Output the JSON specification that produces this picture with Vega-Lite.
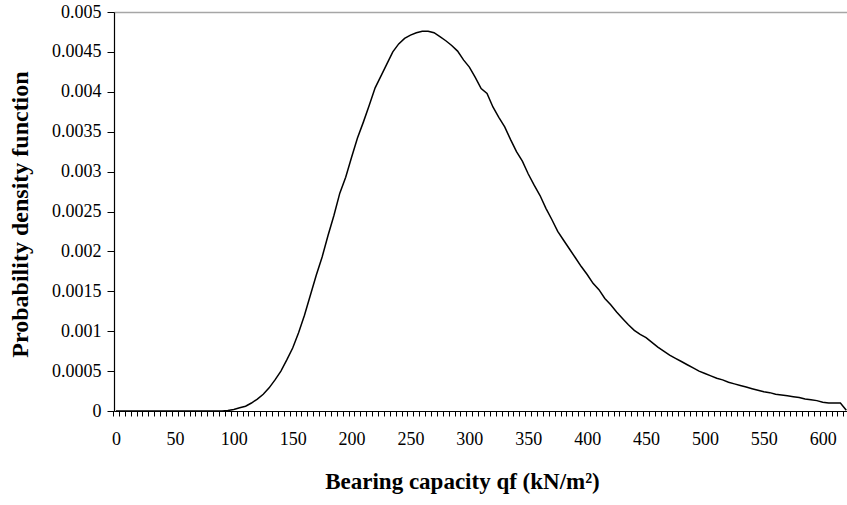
{
  "$schema": "https://vega.github.io/schema/vega-lite/v6.json",
  "width": 733,
  "height": 399,
  "autosize": {"type": "none"},
  "padding": {"left": 114, "top": 12, "right": 0, "bottom": 94},
  "background": "white",
  "config": {
    "view": {"stroke": null},
    "font": "Liberation Serif",
    "axis": {"labelFont": "Liberation Serif", "titleFont": "Liberation Serif", "labelColor": "black", "titleColor": "black", "domainColor": "black", "tickColor": "black"}
  },
  "data": {"values": [
    {"q": 0, "pdf": 0}, {"q": 50, "pdf": 0}, {"q": 90, "pdf": 0}, {"q": 95, "pdf": 0.000005},
    {"q": 100, "pdf": 0.00002}, {"q": 105, "pdf": 0.00004}, {"q": 110, "pdf": 0.00006}, {"q": 115, "pdf": 0.0001},
    {"q": 120, "pdf": 0.00015}, {"q": 125, "pdf": 0.00021}, {"q": 130, "pdf": 0.00029}, {"q": 135, "pdf": 0.00039},
    {"q": 140, "pdf": 0.0005}, {"q": 145, "pdf": 0.00064}, {"q": 150, "pdf": 0.00079}, {"q": 155, "pdf": 0.00098},
    {"q": 160, "pdf": 0.0012}, {"q": 165, "pdf": 0.00145}, {"q": 170, "pdf": 0.0017}, {"q": 175, "pdf": 0.00193},
    {"q": 180, "pdf": 0.0022}, {"q": 185, "pdf": 0.00245}, {"q": 190, "pdf": 0.00273}, {"q": 195, "pdf": 0.00293},
    {"q": 200, "pdf": 0.00318}, {"q": 205, "pdf": 0.00342}, {"q": 210, "pdf": 0.00362}, {"q": 215, "pdf": 0.00383},
    {"q": 220, "pdf": 0.00405}, {"q": 225, "pdf": 0.0042}, {"q": 230, "pdf": 0.00435}, {"q": 235, "pdf": 0.0045},
    {"q": 240, "pdf": 0.0046}, {"q": 245, "pdf": 0.00467}, {"q": 250, "pdf": 0.00471}, {"q": 255, "pdf": 0.00474},
    {"q": 260, "pdf": 0.00476}, {"q": 265, "pdf": 0.00476}, {"q": 270, "pdf": 0.00474}, {"q": 275, "pdf": 0.00469},
    {"q": 280, "pdf": 0.00464}, {"q": 285, "pdf": 0.00458}, {"q": 290, "pdf": 0.00451}, {"q": 295, "pdf": 0.0044},
    {"q": 300, "pdf": 0.00431}, {"q": 305, "pdf": 0.00418}, {"q": 310, "pdf": 0.00404}, {"q": 315, "pdf": 0.00398},
    {"q": 320, "pdf": 0.00381}, {"q": 325, "pdf": 0.00368}, {"q": 330, "pdf": 0.00356}, {"q": 335, "pdf": 0.0034},
    {"q": 340, "pdf": 0.00325}, {"q": 345, "pdf": 0.00313}, {"q": 350, "pdf": 0.00297}, {"q": 355, "pdf": 0.00283},
    {"q": 360, "pdf": 0.0027}, {"q": 365, "pdf": 0.00254}, {"q": 370, "pdf": 0.0024}, {"q": 375, "pdf": 0.00225},
    {"q": 380, "pdf": 0.00214}, {"q": 385, "pdf": 0.00203}, {"q": 390, "pdf": 0.00192}, {"q": 395, "pdf": 0.00181},
    {"q": 400, "pdf": 0.00171}, {"q": 405, "pdf": 0.0016}, {"q": 410, "pdf": 0.00152}, {"q": 415, "pdf": 0.00141},
    {"q": 420, "pdf": 0.00133}, {"q": 425, "pdf": 0.00124}, {"q": 430, "pdf": 0.00116}, {"q": 435, "pdf": 0.00108},
    {"q": 440, "pdf": 0.00101}, {"q": 445, "pdf": 0.00096}, {"q": 450, "pdf": 0.00092}, {"q": 455, "pdf": 0.00086},
    {"q": 460, "pdf": 0.0008}, {"q": 465, "pdf": 0.00075}, {"q": 470, "pdf": 0.0007}, {"q": 475, "pdf": 0.00066},
    {"q": 480, "pdf": 0.00062}, {"q": 485, "pdf": 0.00058}, {"q": 490, "pdf": 0.00054}, {"q": 495, "pdf": 0.0005},
    {"q": 500, "pdf": 0.00047}, {"q": 505, "pdf": 0.00044}, {"q": 510, "pdf": 0.00041}, {"q": 515, "pdf": 0.00039},
    {"q": 520, "pdf": 0.00036}, {"q": 525, "pdf": 0.00034}, {"q": 530, "pdf": 0.00032}, {"q": 535, "pdf": 0.0003},
    {"q": 540, "pdf": 0.00028}, {"q": 545, "pdf": 0.00026}, {"q": 550, "pdf": 0.00024}, {"q": 555, "pdf": 0.00023},
    {"q": 560, "pdf": 0.00021}, {"q": 565, "pdf": 0.0002}, {"q": 570, "pdf": 0.00019}, {"q": 575, "pdf": 0.00018},
    {"q": 580, "pdf": 0.00017}, {"q": 585, "pdf": 0.00015}, {"q": 590, "pdf": 0.00014}, {"q": 595, "pdf": 0.00013},
    {"q": 600, "pdf": 0.00011}, {"q": 605, "pdf": 0.0001}, {"q": 610, "pdf": 0.0001}, {"q": 615, "pdf": 0.0001},
    {"q": 620, "pdf": 0.00001}
  ]},
  "mark": {"type": "line", "color": "black", "strokeWidth": 1.5, "interpolate": "linear"},
  "encoding": {
    "x": {
      "field": "q", "type": "quantitative",
      "scale": {"domain": [-1.7, 620.6], "nice": false, "zero": false},
      "axis": {
        "title": "Bearing capacity qf (kN/m²)",
        "titleFontSize": 23, "titleFontWeight": "bold",
        "titleX": 348, "titleY": 77, "titleAlign": "center", "titleBaseline": "alphabetic", "titleAnchor": null,
        "grid": false,
        "values": [0,5,10,15,20,25,30,35,40,45,50,55,60,65,70,75,80,85,90,95,100,105,110,115,120,125,130,135,140,145,150,155,160,165,170,175,180,185,190,195,200,205,210,215,220,225,230,235,240,245,250,255,260,265,270,275,280,285,290,295,300,305,310,315,320,325,330,335,340,345,350,355,360,365,370,375,380,385,390,395,400,405,410,415,420,425,430,435,440,445,450,455,460,465,470,475,480,485,490,495,500,505,510,515,520,525,530,535,540,545,550,555,560,565,570,575,580,585,590,595,600,605,610,615,620],
        "labelExpr": "datum.value % 50 === 0 ? datum.label : ''",
        "format": "d",
        "labelFontSize": 18, "labelPadding": 14, "labelOverlap": false, "labelFlush": false,
        "tickSize": 5, "tickOffset": -3, "labelOffset": 3, "domainWidth": 1.2
      }
    },
    "y": {
      "field": "pdf", "type": "quantitative",
      "scale": {"domain": [0, 0.005], "nice": false},
      "axis": {
        "title": "Probability density function",
        "titleFontSize": 24, "titleFontWeight": "bold",
        "titleAngle": -90, "titleX": -94, "titleY": 202, "titleAlign": "center", "titleBaseline": "middle", "titleAnchor": null,
        "values": [0, 0.0005, 0.001, 0.0015, 0.002, 0.0025, 0.003, 0.0035, 0.004, 0.0045, 0.005],
        "format": ".4~f",
        "grid": true,
        "gridColor": {"condition": {"test": "datum.value >= 0.00499", "value": "#a6a6a6"}, "value": "rgba(0,0,0,0)"},
        "gridWidth": 1.5,
        "labelFontSize": 18, "labelPadding": 6, "tickSize": 7, "domainWidth": 1.2,
        "labelOverlap": false, "labelFlush": false, "labelBaseline": "middle"
      }
    }
  }
}
